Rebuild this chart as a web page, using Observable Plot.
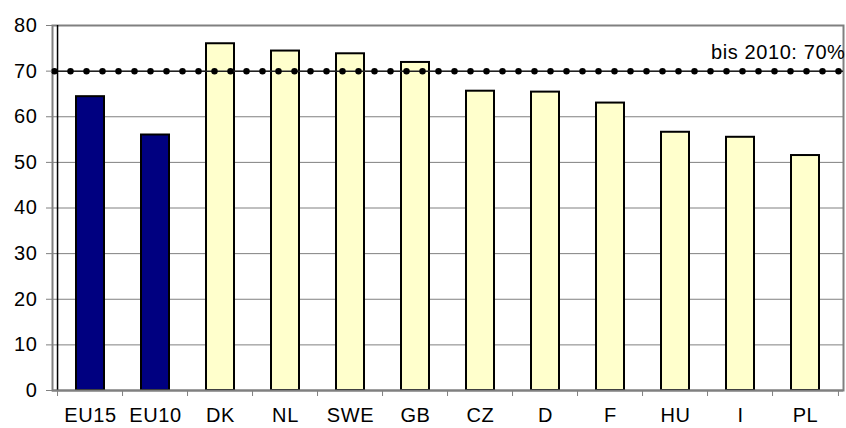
<!DOCTYPE html>
<html>
<head>
<meta charset="utf-8">
<script src="https://cdn.jsdelivr.net/npm/d3@7"></script>
<script src="https://cdn.jsdelivr.net/npm/@observablehq/plot@0.6"></script>
<style>
  html, body { margin: 0; padding: 0; background: #fff; }
  #chart svg { display: block; }
  #chart svg text { letter-spacing: 0.6px; }
</style>
</head>
<body>
<div id="chart"></div>
<script>
const categories = ["EU15", "EU10", "DK", "NL", "SWE", "GB", "CZ", "D", "F", "HU", "I", "PL"];
const values = [64.4, 56.0, 76.0, 74.4, 73.8, 71.9, 65.6, 65.4, 63.0, 56.6, 55.5, 51.5];
const groups = ["EU", "EU", "Land", "Land", "Land", "Land", "Land", "Land", "Land", "Land", "Land", "Land"];
const yTicks = [0, 10, 20, 30, 40, 50, 60, 70, 80];
const targetValue = 70;
const targetLabel = "bis 2010: 70%";

const data = categories.map((c, i) => ({cat: c, value: values[i], group: groups[i]}));

const W = 846, H = 428;
const mL = 52, mR = 3, mT = 25, mB = 38;
const step = (W - mL - mR) / categories.length;
const font = "Liberation Sans, Arial, sans-serif";
const fs = 20;

const chart = Plot.plot({
  width: W,
  height: H,
  marginLeft: mL,
  marginRight: mR,
  marginTop: mT,
  marginBottom: mB,
  style: {fontFamily: font, fontSize: fs + "px", color: "#000", background: "#fff"},
  x: {domain: categories, paddingInner: 0.575, paddingOuter: 0.2875, label: null},
  y: {domain: [0, 80], ticks: yTicks, label: null},
  color: {domain: ["EU", "Land"], range: ["#000080", "#FFFFCC"]},
  marks: [
    Plot.gridY(yTicks.filter(t => t > 0 && t < 80), {stroke: "#808080", strokeOpacity: 1, strokeWidth: 1}),
    Plot.frame({stroke: "#808080", strokeWidth: 2}),
    Plot.barY(data, {x: "cat", y: "value", fill: "group", stroke: "#000", strokeWidth: 2}),
    Plot.ruleY([targetValue], {stroke: "#222", strokeWidth: 1.5}),
    Plot.ruleY([targetValue], {stroke: "#000", strokeWidth: 6.5, strokeDasharray: "0,16", strokeLinecap: "round", strokeDashoffset: -2.5}),
    Plot.text([targetLabel], {y: [targetValue], text: d => d, frameAnchor: "right", textAnchor: "end", lineAnchor: "bottom", dy: -12, dx: 2, fill: "#000", fontSize: fs}),
    // category boundary ticks on x axis
    Plot.ruleX(categories, {x: d => d, dx: -step / 2, y1: 0, y2: 0, insetBottom: -6, stroke: "#808080", strokeWidth: 1}),
    Plot.ruleX([categories[categories.length - 1]], {x: d => d, dx: step / 2, y1: 0, y2: 0, insetBottom: -6, stroke: "#808080", strokeWidth: 1}),
    // left axis line
    Plot.ruleX([categories[0]], {x: d => d, dx: -step / 2, y1: 0, y2: 80, stroke: "#000", strokeWidth: 1.5}),
    Plot.ruleY([0], {stroke: "#808080", strokeWidth: 2}),
    Plot.axisY({ticks: yTicks, tickSize: 6, tickPadding: 9, stroke: "#808080", fill: "#000", fontSize: fs, label: null}),
    Plot.axisX({tickSize: 0, tickPadding: 17, fill: "#000", fontSize: fs, label: null})
  ]
});
document.getElementById("chart").appendChild(chart);
</script>
</body>
</html>
